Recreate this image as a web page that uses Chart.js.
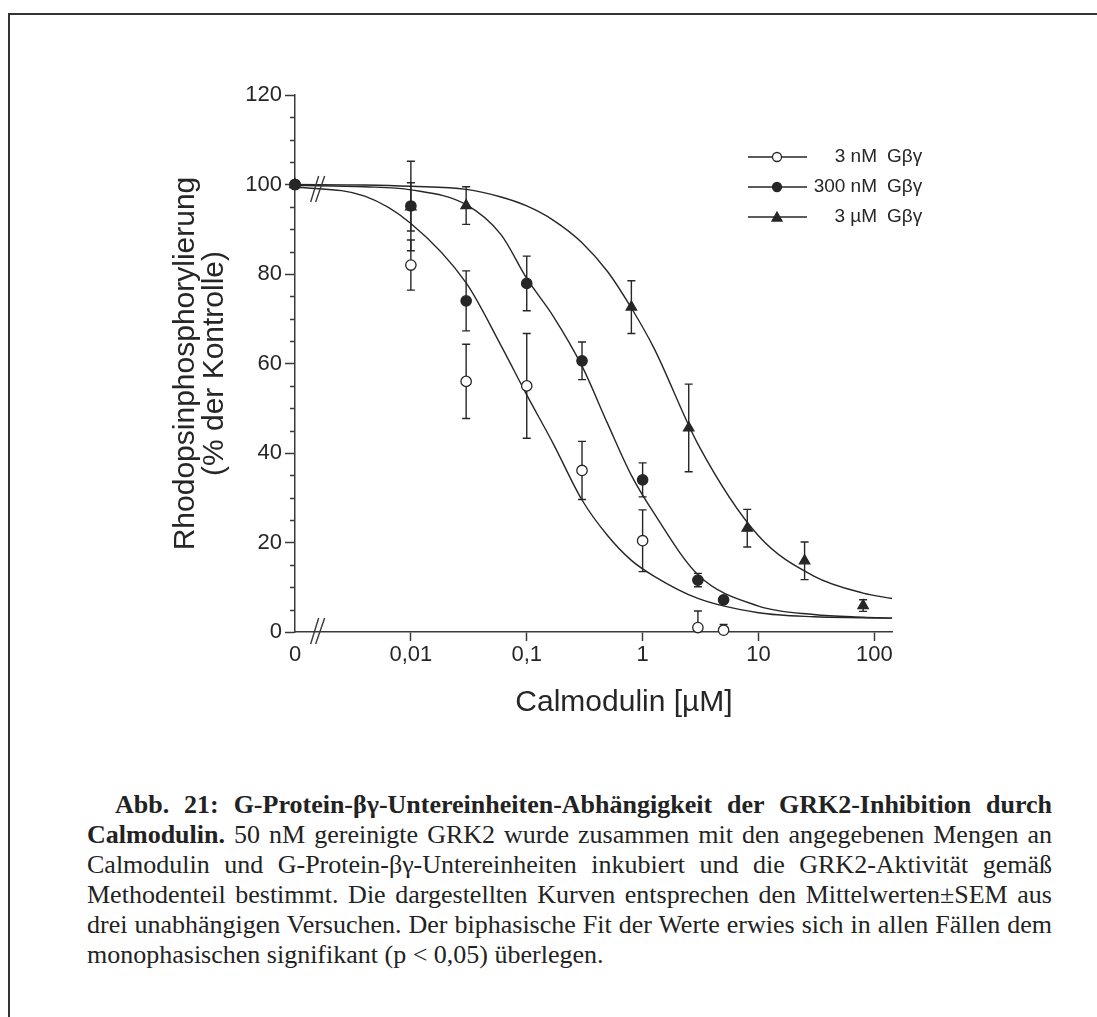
<!DOCTYPE html>
<html>
<head>
<meta charset="utf-8">
<script src="https://cdn.jsdelivr.net/npm/chart.js@4.4.0/dist/chart.umd.min.js"></script>
<style>
  html, body { margin: 0; padding: 0; background: #fff; }
  body { width: 1097px; height: 1017px; position: relative; overflow: hidden; }
  .frame-top { position: absolute; left: 8px; top: 13px; width: 1089px; height: 2px; background: #333; }
  .frame-left { position: absolute; left: 8px; top: 13px; width: 2px; height: 1004px; background: #333; }
  #c { position: absolute; left: 0; top: 0; }
  .caption { position: absolute; left: 87px; top: 790px; width: 965px; color: #222;
             font-family: "Liberation Serif", "Times New Roman", serif; font-size: 26px; line-height: 30px; }
  .caption div { text-align: justify; text-align-last: justify; white-space: nowrap; }
  .caption div.first { text-indent: 28px; }
  .caption div.last { text-align: left; text-align-last: left; }
</style>
</head>
<body>
<div class="frame-top"></div>
<div class="frame-left"></div>
<canvas id="c" width="1097" height="760"></canvas>
<div class="caption">
  <div class="first"><b>Abb. 21: G-Protein-βγ-Untereinheiten-Abhängigkeit der GRK2-Inhibition durch</b></div>
  <div><b>Calmodulin.</b> 50 nM gereinigte GRK2 wurde zusammen mit den angegebenen Mengen an</div>
  <div>Calmodulin und G-Protein-βγ-Untereinheiten inkubiert und die GRK2-Aktivität gemäß</div>
  <div>Methodenteil bestimmt. Die dargestellten Kurven entsprechen den Mittelwerten±SEM aus</div>
  <div>drei unabhängigen Versuchen. Der biphasische Fit der Werte erwies sich in allen Fällen dem</div>
  <div class="last">monophasischen signifikant (p &lt; 0,05) überlegen.</div>
</div>
<script>
// axis ticks ("0" sits where the log axis starts)
const xTickValues = [0.001, 0.01, 0.1, 1, 10, 100];
const xTickLabels = ['0', '0,01', '0,1', '1', '10', '100'];
const xTitle = 'Calmodulin [µM]';
const yTitle = ['Rhodopsinphosphorylierung', '(% der Kontrolle)'];

const seriesNames = ['3 nM', '300 nM', '3 µM'];

// measured points, Calmodulin [µM] vs. % der Kontrolle, with SEM
const conc3nM = [0.001, 0.01, 0.03, 0.1, 0.3, 1, 3, 5];
const mean3nM = [100, 82, 56, 55, 36.1, 20.4, 1.0, 0.4];
const sem3nM = [0, 5.6, 8.3, 11.7, 6.5, 6.9, 3.7, 1.3];

const conc300nM = [0.001, 0.01, 0.03, 0.1, 0.3, 1, 3, 5];
const mean300nM = [100, 95.2, 74, 77.9, 60.6, 34, 11.6, 7.2];
const sem300nM = [0, 10, 6.7, 6.1, 4.2, 3.8, 1.5, 0];

const conc3uM = [0.001, 0.01, 0.03, 0.8, 2.5, 8, 25, 80];
const mean3uM = [100, 95, 95.3, 72.6, 45.6, 23.2, 15.9, 5.9];
const sem3uM = [0, 5.4, 4.2, 5.9, 9.8, 4.2, 4.2, 1.3];

// fitted curves
const fitConc = [0.001, 0.004, 0.01, 0.03, 0.06, 0.1, 0.17, 0.3, 0.5, 0.8, 1.25, 3, 10, 30, 80, 142];
const fit3nM = [99.5, 97.4, 91.3, 78, 64, 53, 42, 29.5, 21.5, 16, 12.5, 7.5, 4.3, 3.4, 3.2, 3.1];
const fit300nM = [99.8, 99.5, 98.8, 95.5, 88.8, 79, 70.5, 59.4, 46.5, 35, 26.6, 12.8, 5.8, 3.9, 3.3, 3.1];
const fit3uM = [100, 99.9, 99.6, 98.9, 97.2, 95.2, 92, 87, 80.5, 72.4, 63.5, 42, 21.5, 12.5, 8.7, 7.5];

const ink = '#262626';
const axisColor = '#3a3a3a';
const sans = '"Liberation Sans", Arial, Helvetica, sans-serif';

const toXY = (xs, ys) => xs.map((x, i) => ({ x: x, y: ys[i] }));

const pointSeries = [
  { name: seriesNames[0], x: conc3nM, mean: mean3nM, sem: sem3nM, style: 'circle', fill: '#ffffff', order: 2 },
  { name: seriesNames[1], x: conc300nM, mean: mean300nM, sem: sem300nM, style: 'circle', fill: ink, order: 0 },
  { name: seriesNames[2], x: conc3uM, mean: mean3uM, sem: sem3uM, style: 'triangle', fill: ink, order: 1 },
];
const fitSeries = [fit3nM, fit300nM, fit3uM];

const datasets = [];
fitSeries.forEach(f => {
  datasets.push({
    data: toXY(fitConc, f),
    showLine: true,
    borderColor: ink,
    borderWidth: 1.4,
    pointRadius: 0,
    cubicInterpolationMode: 'monotone',
    order: 5
  });
});
pointSeries.forEach(s => {
  datasets.push({
    label: s.name,
    data: toXY(s.x, s.mean),
    showLine: false,
    pointStyle: s.style,
    pointRadius: s.style === 'triangle' ? 6 : 5.2,
    pointBackgroundColor: s.fill,
    pointBorderColor: ink,
    pointBorderWidth: 1.3,
    clip: false,
    order: s.order
  });
});

// vertical SEM bars under the markers
const errorBars = {
  id: 'errorBars',
  beforeDatasetsDraw(chart) {
    const { ctx, scales: { x, y } } = chart;
    ctx.save();
    ctx.strokeStyle = ink;
    ctx.lineWidth = 1.4;
    pointSeries.forEach(s => {
      s.x.forEach((xv, i) => {
        const e = s.sem[i];
        if (!e) return;
        const px = x.getPixelForValue(xv);
        const lowVal = s.mean[i] - e;
        const top = y.getPixelForValue(s.mean[i] + e);
        const bot = y.getPixelForValue(Math.max(0, lowVal));
        ctx.beginPath();
        ctx.moveTo(px, top); ctx.lineTo(px, bot);
        ctx.moveTo(px - 4, top); ctx.lineTo(px + 4, top);
        if (lowVal > 0) { ctx.moveTo(px - 4, bot); ctx.lineTo(px + 4, bot); }
        ctx.stroke();
      });
    });
    ctx.restore();
  }
};

// minor y ticks, axis break marks, x title and the legend
const extras = {
  id: 'extras',
  afterDraw(chart) {
    const { ctx, scales: { x, y } } = chart;
    ctx.save();
    ctx.strokeStyle = axisColor;
    ctx.lineWidth = 1.4;
    ctx.beginPath();
    for (let v = 5; v < 120; v += 5) {
      if (v % 20 === 0) continue;
      const py = Math.round(y.getPixelForValue(v)) + 0.5;
      ctx.moveTo(x.left - 5, py); ctx.lineTo(x.left, py);
    }
    ctx.stroke();

    // "//" breaks between 0 and 0,01
    const bx = x.getPixelForValue(0.0016);
    [y.getPixelForValue(0) - 1, y.getPixelForValue(99)].forEach(cy => {
      ctx.beginPath();
      ctx.moveTo(bx - 8, cy + 13); ctx.lineTo(bx, cy - 13);
      ctx.moveTo(bx - 3, cy + 13); ctx.lineTo(bx + 6, cy - 13);
      ctx.stroke();
    });

    ctx.fillStyle = ink;
    ctx.font = '30px ' + sans;
    ctx.textAlign = 'center';
    ctx.textBaseline = 'alphabetic';
    ctx.fillText(xTitle, 624, 711);

    const rows = [157, 187, 217];
    pointSeries.forEach((s, i) => {
      const ly = rows[i];
      ctx.strokeStyle = ink;
      ctx.lineWidth = 1.3;
      ctx.beginPath();
      ctx.moveTo(748, ly); ctx.lineTo(807, ly);
      ctx.stroke();
      ctx.fillStyle = s.fill;
      ctx.beginPath();
      if (s.style === 'triangle') {
        ctx.moveTo(777, ly - 5); ctx.lineTo(782, ly + 4); ctx.lineTo(772, ly + 4); ctx.closePath();
      } else {
        ctx.arc(777, ly, 4.5, 0, Math.PI * 2);
      }
      ctx.fill();
      ctx.stroke();
      ctx.fillStyle = ink;
      ctx.font = '19px ' + sans;
      ctx.textBaseline = 'middle';
      ctx.textAlign = 'right';
      ctx.fillText(s.name, 877, ly);
      ctx.textAlign = 'left';
      ctx.fillText('Gβγ', 887, ly);
    });
    ctx.restore();
  }
};

new Chart(document.getElementById('c'), {
  type: 'scatter',
  data: { datasets: datasets },
  options: {
    responsive: false,
    animation: false,
    events: [],
    layout: { padding: { left: 171, top: 95, right: 205, bottom: 0 } },
    plugins: { legend: { display: false }, tooltip: { enabled: false } },
    scales: {
      x: {
        type: 'logarithmic',
        min: 0.001,
        max: 142,
        afterFit(scale) { scale.height = 128; },
        afterBuildTicks(scale) { scale.ticks = xTickValues.map(v => ({ value: v })); },
        border: { color: axisColor, width: 1.5 },
        grid: {
          drawOnChartArea: false,
          tickLength: 9,
          tickWidth: 1.5,
          tickColor: c => c.index === 0 ? 'rgba(0,0,0,0)' : axisColor
        },
        ticks: {
          autoSkip: false,
          maxRotation: 0,
          padding: 1,
          color: ink,
          font: { family: sans, size: 22 },
          callback: (v, i) => xTickLabels[i]
        }
      },
      y: {
        min: 0,
        max: 120,
        afterFit(scale) { scale.width = 124; },
        border: { color: axisColor, width: 1.5 },
        grid: { drawOnChartArea: false, tickLength: 10, tickWidth: 1.5, tickColor: axisColor },
        ticks: { stepSize: 20, padding: 3, color: ink, font: { family: sans, size: 22 } },
        title: {
          display: true,
          text: yTitle,
          color: ink,
          font: { family: sans, size: 30, lineHeight: 0.97 },
          padding: { top: 0, bottom: 0 }
        }
      }
    }
  },
  plugins: [errorBars, extras]
});
</script>
</body>
</html>
